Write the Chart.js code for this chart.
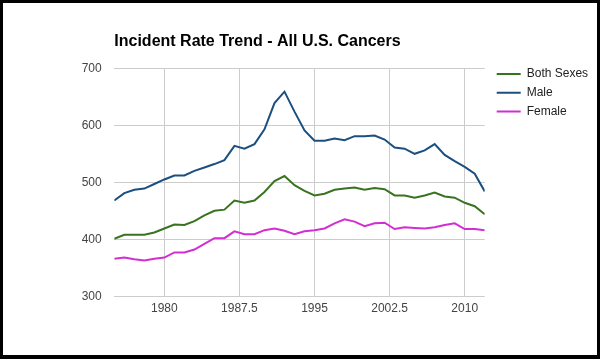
<!DOCTYPE html>
<html>
<head>
<meta charset="utf-8">
<title>Incident Rate Trend - All U.S. Cancers</title>
<script src="https://cdn.jsdelivr.net/npm/chart.js@4.4.1/dist/chart.umd.min.js"></script>
<style>
    body { margin: 0; background: #fff; }
    #frame {
        width: 600px;
        height: 359px;
        box-sizing: border-box;
        border: 3px solid #000;
        border-bottom-width: 4px;
        background: #fff;
    }
    canvas { display: block; }
</style>
</head>
<body>
<div id="frame">
    <canvas id="incidenceChart" width="594" height="352"></canvas>
</div>
<script>
// Incidence per 100,000
const years = [1975, 1976, 1977, 1978, 1979, 1980, 1981, 1982, 1983, 1984,
    1985, 1986, 1987, 1988, 1989, 1990, 1991, 1992, 1993, 1994,
    1995, 1996, 1997, 1998, 1999, 2000, 2001, 2002, 2003, 2004,
    2005, 2006, 2007, 2008, 2009, 2010, 2011, 2012];

const bothSexes = [401, 408, 408, 408, 412, 419, 426, 425, 432, 442,
    450, 452, 468, 464, 468, 483, 502, 511, 495, 485,
    477, 480, 487, 489, 491, 487, 490, 488, 477, 477,
    473, 477, 482, 475, 473, 464, 458, 444];

const male = [468, 481, 487, 489, 497, 505, 512, 512, 520, 526,
    532, 539, 564, 559, 567, 593, 639, 659, 624, 591,
    573, 573, 577, 574, 581, 581, 582, 575, 561, 559,
    550, 556, 567, 548, 537, 527, 515, 484];

const female = [366, 368, 365, 363, 366, 368, 377, 377, 382, 392,
    402, 402, 414, 409, 409, 416, 419, 415, 409, 414,
    416, 419, 428, 435, 431, 423, 428, 429, 418, 421,
    420, 419, 421, 425, 428, 418, 418, 416];

const xTicks = [1980, 1987.5, 1995, 2002.5, 2010];
const yTicks = [300, 400, 500, 600, 700];

const FONT = "'Liberation Sans', Arial, Helvetica, sans-serif";

function toPoints(values) {
    return values.map((v, i) => ({ x: years[i], y: v }));
}

function lineDataset(label, values, color) {
    return {
        label: label,
        data: toPoints(values),
        borderColor: color,
        backgroundColor: color,
        borderWidth: 2,
        pointRadius: 0,
        pointHoverRadius: 0,
        tension: 0,
        fill: false
    };
}

// Move the legend next to the plot, level with its top edge
const legendNudge = {
    id: 'legendNudge',
    afterLayout(chart) {
        const lg = chart.legend;
        const dx = 487 - lg.left;
        lg.left += dx;
        lg.right += dx;
        const top = chart.chartArea.top - 7;
        lg.bottom += top - lg.top;
        lg.top = top;
    }
};

function initializeIncidenceChart(canvasId) {
    const ctx = document.getElementById(canvasId).getContext('2d');

    return new Chart(ctx, {
        type: 'line',
        data: {
            datasets: [
                lineDataset('Both Sexes', bothSexes, '#3a7320'),
                lineDataset('Male', male, '#1b4f80'),
                lineDataset('Female', female, '#d22ed2')
            ]
        },
        options: {
            responsive: false,
            animation: false,
            devicePixelRatio: 1,
            layout: {
                padding: { left: 0, right: 4.2, top: 0, bottom: 0 }
            },
            plugins: {
                title: {
                    display: true,
                    text: 'Incident Rate Trend - All U.S. Cancers',
                    align: 'start',
                    fullSize: false,
                    color: '#000',
                    font: { family: FONT, size: 16, weight: 'bold' },
                    padding: { top: 29.4, bottom: 16.7 }
                },
                legend: {
                    position: 'right',
                    align: 'start',
                    labels: {
                        usePointStyle: true,
                        pointStyle: 'line',
                        pointStyleWidth: 24,
                        padding: 6.7,
                        color: '#222',
                        font: { family: FONT, size: 12 }
                    }
                },
                tooltip: { enabled: false }
            },
            scales: {
                x: {
                    type: 'linear',
                    min: years[0],
                    max: years[years.length - 1],
                    afterBuildTicks: function(scale) {
                        scale.ticks = xTicks.map(v => ({ value: v }));
                    },
                    afterFit: function(scale) {
                        scale.height = 58.7;
                    },
                    grid: { color: '#cccccc', drawTicks: false },
                    border: { display: false },
                    ticks: {
                        padding: 5.5,
                        color: '#444',
                        maxRotation: 0,
                        autoSkip: false,
                        font: { family: FONT, size: 12 },
                        callback: function(value) {
                            return String(value);
                        }
                    }
                },
                y: {
                    min: yTicks[0],
                    max: yTicks[yTicks.length - 1],
                    afterBuildTicks: function(scale) {
                        scale.ticks = yTicks.map(v => ({ value: v }));
                    },
                    afterFit: function(scale) {
                        scale.width = 111.3;
                    },
                    grid: { color: '#cccccc', drawTicks: false },
                    border: { display: false },
                    ticks: {
                        padding: 12.6,
                        color: '#444',
                        font: { family: FONT, size: 12 },
                        callback: function(value) {
                            return String(value);
                        }
                    }
                }
            }
        },
        plugins: [legendNudge]
    });
}

initializeIncidenceChart('incidenceChart');
</script>
</body>
</html>
